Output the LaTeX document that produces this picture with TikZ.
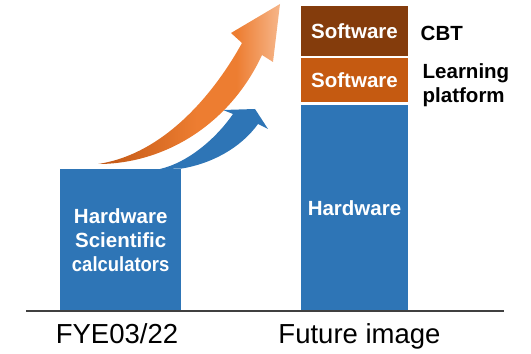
\documentclass[tikz,border=0pt]{standalone}
\usepackage{fontspec}
\setmainfont{Liberation Sans}
\usepackage{graphicx}
\usepackage{tikz}
\usetikzlibrary{positioning}
\definecolor{hwblue}{RGB}{46,117,182}
\definecolor{cbtbrown}{RGB}{132,60,12}
\definecolor{lporange}{RGB}{197,90,17}
\definecolor{arrowdark}{RGB}{192,86,20}
\definecolor{arrowmid}{RGB}{237,125,49}
\definecolor{arrowlight}{RGB}{246,182,138}
\pgfdeclarehorizontalshading{growthfade}{100bp}{color(0bp)=(arrowdark); color(25bp)=(arrowdark); color(52bp)=(arrowmid); color(63bp)=(arrowmid); color(75bp)=(arrowlight); color(100bp)=(arrowlight)}

\begin{document}
\begin{tikzpicture}[
    x=1pt, y=1pt,
    bar/.style={fill=hwblue, inner sep=0pt, align=center, text=white, font=\fontsize{20.5}{24}\selectfont\bfseries},
    stack/.style={bar, minimum width=107pt},
    tag/.style={inner sep=0pt, align=left, font=\fontsize{20.5}{24.5}\selectfont\bfseries},
    axislabel/.style={inner sep=0pt, font=\fontsize{27.5}{33}\selectfont}
]
    \useasboundingbox (0,0) rectangle (531,354);

    % Today: calculators only
    \node[bar, minimum width=121pt, minimum height=142pt, anchor=south west] (fye) at (60,43) {Hardware\\Scientific\\\scalebox{0.9}[1]{calculators}};

    % Future: hardware plus two software layers
    \node[stack, minimum height=206pt, anchor=south] (future) at (354.5,43) {Hardware};
    \node[stack, fill=lporange, minimum height=44pt, above=2pt of future] (lpsoft) {Software};
    \node[stack, fill=cbtbrown, minimum height=50pt, above=2pt of lpsoft] (cbtsoft) {Software};

    % Side notes
    \node[tag, anchor=base west] (cbt) at (420.5,313) {CBT};
    \node[tag, anchor=north west] (lp) at (422.5,290.7) {Learning\\platform};

    % Axis
    \coordinate (axisleft) at (26,43);
    \coordinate (axisright) at (504,43);
    \draw[black!75, line width=1.2pt] (axisleft) -- (axisright);
    \node[axislabel, anchor=base] (nowlbl) at (117,10) {FYE03/22};
    \node[axislabel, anchor=base] (futurelbl) at (359.5,10) {Future image};

    % Growth arrows
    \fill[hwblue] (fye.north east) .. controls (210,190) and (240,205) .. (258,230)
        -- (268,225) -- (255,245) -- (223,244) -- (233,240)
        .. controls (218,218) and (190,192) .. (160,185) -- cycle;
    \shade[shading=growthfade]
        (98,190) .. controls (165,190) and (230,230) .. (262,299)
        -- (273,292) -- (280,350) -- (231,321) -- (242,311)
        .. controls (215,262) and (165,200) .. cycle;
\end{tikzpicture}
\end{document}
